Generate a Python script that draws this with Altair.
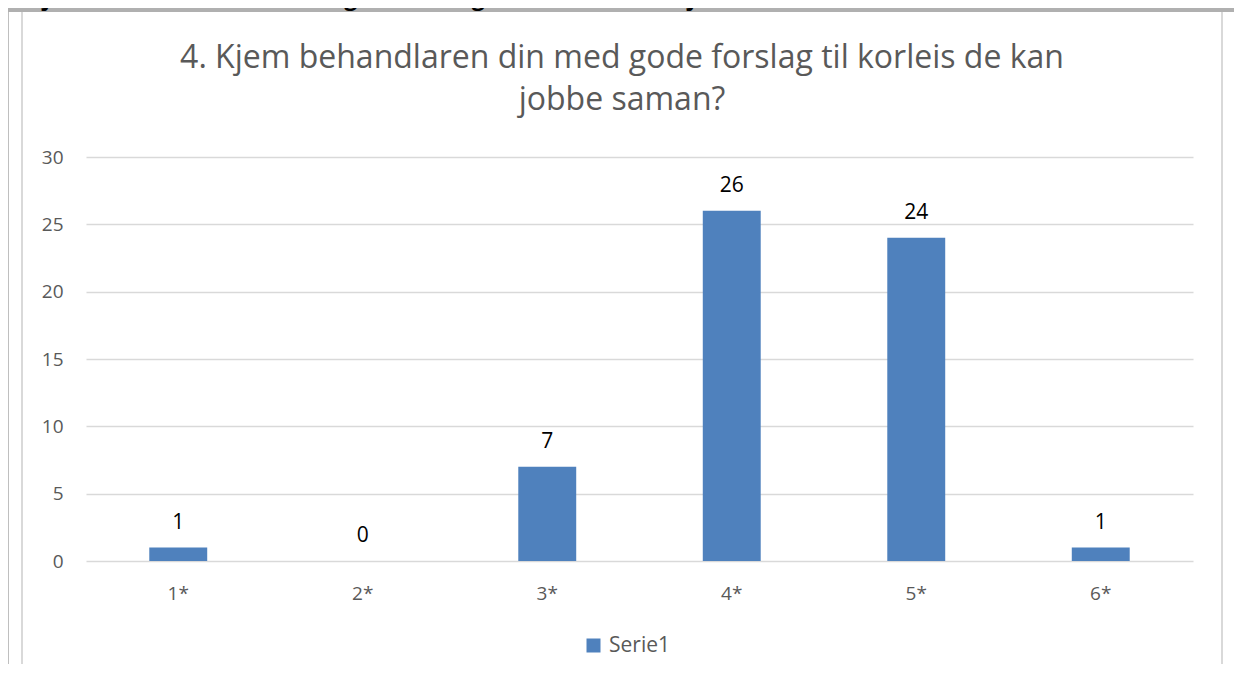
import altair as alt
import pandas as pd

# ---- data ----
categories = ["1*", "2*", "3*", "4*", "5*", "6*"]
values = [1, 0, 7, 26, 24, 1]
series_name = "Serie1"
y_ticks = [0, 5, 10, 15, 20, 25, 30]
title_lines = ["4. Kjem behandlaren din med gode forslag til korleis de kan", "jobbe saman?"]
header_text = "4. Kjem behandlaren din med gode forslag til korleis de kan jobbe saman?"

df = pd.DataFrame({"cat": categories, "val": values, "series": [series_name] * len(categories)})
one = pd.DataFrame({"k": [0]})

W, H = 1107, 404
PAD = {"left": 78, "top": 149, "right": 41, "bottom": 103}
FONT = "Open Sans"
BLUE = "#4f81bd"

x_enc = alt.X(
    "cat:N", sort=categories,
    scale=alt.Scale(paddingInner=0.686, paddingOuter=0.343),
    axis=alt.Axis(title=None, labelAngle=0, domain=False, ticks=False, tickSize=0,
                  labelPadding=38, labelBaseline="alphabetic", labelFontSize=19,
                  labelColor="#595959", labelFont=FONT, grid=False),
)
y_enc = alt.Y(
    "val:Q", scale=alt.Scale(domain=[0, 30], nice=False),
    axis=alt.Axis(values=y_ticks, title=None, domain=False, ticks=False, tickSize=0,
                  labelPadding=23, labelFontSize=19, labelColor="#595959", labelFont=FONT,
                  gridColor="#d9d9d9", gridWidth=1.3),
)

bars = alt.Chart(df).mark_bar().encode(
    x=x_enc, y=y_enc,
    color=alt.Color("series:N", scale=alt.Scale(range=[BLUE]),
                    legend=alt.Legend(title=None, orient="none", legendX=497, legendY=478,
                                      direction="horizontal", symbolType="square",
                                      symbolSize=196, symbolStrokeWidth=0,
                                      labelFontSize=21, labelColor="#595959", labelFont=FONT,
                                      labelOffset=5, padding=0)),
)

labels = alt.Chart(df).mark_text(dy=-19, baseline="alphabetic", fontSize=21, color="black",
                                 font=FONT).encode(
    x=alt.X("cat:N", sort=categories), y="val:Q", text="val:Q")

# decorations: header bar and frame lines
header_bar = alt.Chart(one).mark_rect(color="#b0b0b0").encode(
    x=alt.value(-90), x2=alt.value(1160), y=alt.value(-160), y2=alt.value(-145))
outer_line = alt.Chart(one).mark_rect(color="#bfbfbf").encode(
    x=alt.value(-79), x2=alt.value(-77), y=alt.value(-145), y2=alt.value(525))
inner_left = alt.Chart(one).mark_rect(color="#d9d9d9").encode(
    x=alt.value(-65), x2=alt.value(-63), y=alt.value(-145), y2=alt.value(525))
inner_right = alt.Chart(one).mark_rect(color="#d9d9d9").encode(
    x=alt.value(1135), x2=alt.value(1137), y=alt.value(-145), y2=alt.value(525))
header = alt.Chart(one).mark_text(text=header_text, fontSize=23, fontWeight="bold",
                                  color="black", align="left", baseline="alphabetic",
                                  font=FONT).encode(x=alt.value(-84), y=alt.value(-152))

title1 = alt.Chart(one).mark_text(text=title_lines[0], fontSize=32, color="#595959",
                                  align="center", baseline="alphabetic", font=FONT).encode(
    x=alt.value(536), y=alt.value(-89))
title2 = alt.Chart(one).mark_text(text=title_lines[1], fontSize=32, color="#595959",
                                  align="center", baseline="alphabetic", font=FONT).encode(
    x=alt.value(536), y=alt.value(-47))

chart = alt.layer(
    header_bar, outer_line, inner_left, inner_right, header, title1, title2, bars, labels
).properties(
    width=W, height=H, padding=PAD, autosize=alt.AutoSizeParams(type="none"),
    background="white"
).configure_view(stroke=None)

chart.save("out.html", embed_options={"renderer": "svg", "actions": False})
